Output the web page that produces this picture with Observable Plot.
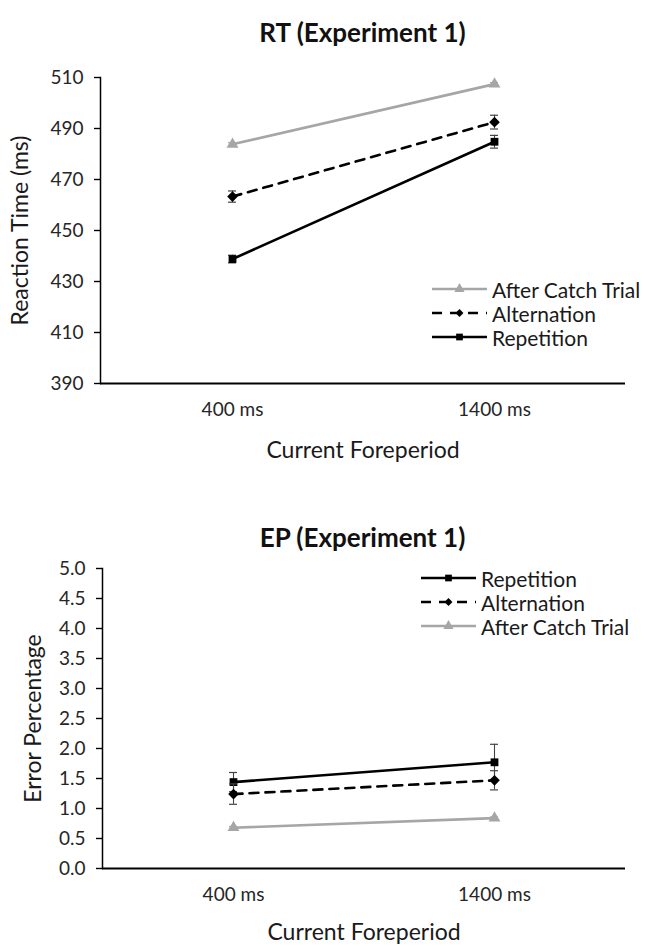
<!DOCTYPE html>
<html>
<head>
<meta charset="utf-8">
<script src="https://cdn.jsdelivr.net/npm/d3@7"></script>
<script src="https://cdn.jsdelivr.net/npm/@observablehq/plot@0.6"></script>
<style>
  body { margin: 0; background: #fff; }
  #wrap { position: relative; width: 646px; height: 946px; font-family: Lato, "Open Sans", sans-serif; color: #1a1a1a; }
  .chart { position: absolute; left: 0; }
  .title { position: absolute; left: 100px; width: 525px; text-align: center; font-weight: bold; font-size: 26px; margin: 0; line-height: 1; color: #111; }
  .legend { position: absolute; font-size: 21px; line-height: 1; color: #1a1a1a; }
  .legend .row { display: flex; align-items: center; height: 24px; }
  .legend svg { margin-right: 5px; flex: none; }
</style>
</head>
<body>
<div id="wrap"></div>
<script>
// ---------- data ----------
const foreperiods = ["400 ms", "1400 ms"];
const conditions = ["Repetition", "Alternation", "After Catch Trial"];

// RT (ms), Experiment 1
const rtRepetition = [438.8, 484.8];
const rtRepetitionErr = [1.5, 2.5];
const rtAlternation = [463.3, 492.5];
const rtAlternationErr = [2.2, 2.7];
const rtAfterCatch = [483.8, 507.4];
const rtAfterCatchErr = [0.6, 0.6];
const rtTicks = [390, 410, 430, 450, 470, 490, 510];

// EP (%), Experiment 1
const epRepetition = [1.44, 1.77];
const epRepetitionErr = [0.16, 0.30];
const epAlternation = [1.24, 1.47];
const epAlternationErr = [0.17, 0.16];
const epAfterCatch = [0.68, 0.84];
const epAfterCatchErr = [0.02, 0.02];
const epTicks = [0, 0.5, 1, 1.5, 2, 2.5, 3, 3.5, 4, 4.5, 5];

const xTitleText = "Current Foreperiod";

// ---------- styles per condition ----------
const styleOf = {
  "Repetition": {stroke: "#000", err: "#444", dash: null, symbol: "square", r: 4.4},
  "Alternation": {stroke: "#000", err: "#444", dash: "9,7", symbol: "diamond2", r: 4.8},
  "After Catch Trial": {stroke: "#a6a6a6", err: "#a6a6a6", dash: null, symbol: "triangle", r: 4.4}
};

function rows(cond, vals, errs) {
  return foreperiods.map((fp, i) => ({fp, cond, v: vals[i], lo: vals[i] - errs[i], hi: vals[i] + errs[i]}));
}

function seriesMarks(data) {
  const marks = [];
  for (const cond of conditions) {
    const d = data.filter(r => r.cond === cond);
    const s = styleOf[cond];
    marks.push(Plot.line(d, {x: "fp", y: "v", stroke: s.stroke, strokeWidth: 2.6, strokeDasharray: s.dash}));
    marks.push(Plot.ruleX(d, {x: "fp", y1: "lo", y2: "hi", stroke: s.err, strokeWidth: 1.1}));
    marks.push(Plot.ruleY(d, {x1: "fp", x2: "fp", y: "lo", stroke: s.err, strokeWidth: 1.2, insetLeft: -4, insetRight: -4}));
    marks.push(Plot.ruleY(d, {x1: "fp", x2: "fp", y: "hi", stroke: s.err, strokeWidth: 1.2, insetLeft: -4, insetRight: -4}));
    marks.push(Plot.dot(d, {x: "fp", y: "v", symbol: () => s.symbol, fill: s.stroke, stroke: "none", r: s.r}));
  }
  return marks;
}

function makeChart({data, yDomain, yTicks, yFormat, yTitle, height, marginTop, marginBottom, marginLeft, xTitleDy, yTitleDx, tickPad}) {
  return Plot.plot({
    width: 646,
    height,
    marginTop,
    marginBottom,
    marginLeft,
    marginRight: 21,
    style: {fontFamily: "Lato, 'Open Sans', sans-serif", fontSize: "19px", color: "#262626", background: "#fff", overflow: "visible"},
    x: {type: "point", domain: foreperiods, padding: 0.5, label: null},
    y: {domain: yDomain, label: null},
    symbol: {type: "identity"},
    marks: [
      Plot.axisX({tickSize: 0, tickPadding: 19, label: null, fontSize: 19, fill: "#262626"}),
      Plot.axisY({ticks: yTicks, tickFormat: yFormat, tickSize: 6, tickPadding: tickPad, label: null, fontSize: 19, fill: "#262626", stroke: "#000", strokeWidth: 1.4}),
      Plot.frame({anchor: "left", stroke: "#000", strokeWidth: 1.5}),
      Plot.ruleY([yDomain[0]], {stroke: "#000", strokeWidth: 2}),
      Plot.text([xTitleText], {frameAnchor: "bottom", dy: xTitleDy, lineAnchor: "middle", textAnchor: "middle", fontSize: 23, fill: "#1a1a1a"}),
      Plot.text([yTitle], {frameAnchor: "left", dx: yTitleDx, rotate: -90, textAnchor: "middle", lineAnchor: "middle", fontSize: 23, fill: "#1a1a1a"}),
      ...seriesMarks(data)
    ]
  });
}

const rtData = [
  ...rows("After Catch Trial", rtAfterCatch, rtAfterCatchErr),
  ...rows("Alternation", rtAlternation, rtAlternationErr),
  ...rows("Repetition", rtRepetition, rtRepetitionErr)
];
const epData = [
  ...rows("After Catch Trial", epAfterCatch, epAfterCatchErr),
  ...rows("Alternation", epAlternation, epAlternationErr),
  ...rows("Repetition", epRepetition, epRepetitionErr)
];

const wrap = document.getElementById("wrap");

function addTitle(text, top) {
  const t = document.createElement("h2");
  t.className = "title";
  t.textContent = text;
  t.style.top = top + "px";
  wrap.appendChild(t);
}

function addLegend(order, left, top) {
  const lg = document.createElement("div");
  lg.className = "legend";
  lg.style.left = left + "px";
  lg.style.top = top + "px";
  for (const cond of order) {
    const s = styleOf[cond];
    const row = document.createElement("div");
    row.className = "row";
    const svg = d3.create("svg").attr("width", 55).attr("height", 12);
    svg.append("line").attr("x1", 0).attr("x2", 55).attr("y1", 6).attr("y2", 6)
      .attr("stroke", s.stroke).attr("stroke-width", 2.6).attr("stroke-dasharray", s.dash ? "10,8" : null);
    const sym = {square: d3.symbolSquare, diamond2: d3.symbolSquare2, triangle: d3.symbolTriangle}[s.symbol];
    svg.append("path").attr("d", d3.symbol(sym, s.symbol === "diamond2" ? 40 : 45)())
      .attr("transform", `translate(27.5,6)` + (s.symbol === "diamond2" ? " rotate(45)" : ""))
      .attr("fill", s.stroke);
    row.appendChild(svg.node());
    const span = document.createElement("span");
    span.textContent = cond;
    row.appendChild(span);
    lg.appendChild(row);
  }
  wrap.appendChild(lg);
}

// Chart 1: RT
const c1 = makeChart({data: rtData, yDomain: [390, 510], yTicks: rtTicks, yFormat: d3.format("d"), yTitle: "Reaction Time (ms)",
  height: 470, marginTop: 77, marginBottom: 87, marginLeft: 100, xTitleDy: 67, yTitleDx: -80, tickPad: 11});
c1.classList.add("chart");
c1.style.top = "0px";
wrap.appendChild(c1);
addTitle("RT (Experiment 1)", 19);
addLegend(["After Catch Trial", "Alternation", "Repetition"], 432, 277);

// Chart 2: EP
const c2 = makeChart({data: epData, yDomain: [0, 5], yTicks: epTicks, yFormat: d3.format(".1f"), yTitle: "Error Percentage",
  height: 476, marginTop: 98, marginBottom: 78, marginLeft: 102, xTitleDy: 64, yTitleDx: -69, tickPad: 11});
c2.classList.add("chart");
c2.style.top = "470px";
wrap.appendChild(c2);
addTitle("EP (Experiment 1)", 524);
addLegend(["Repetition", "Alternation", "After Catch Trial"], 421, 566);
</script>
</body>
</html>
